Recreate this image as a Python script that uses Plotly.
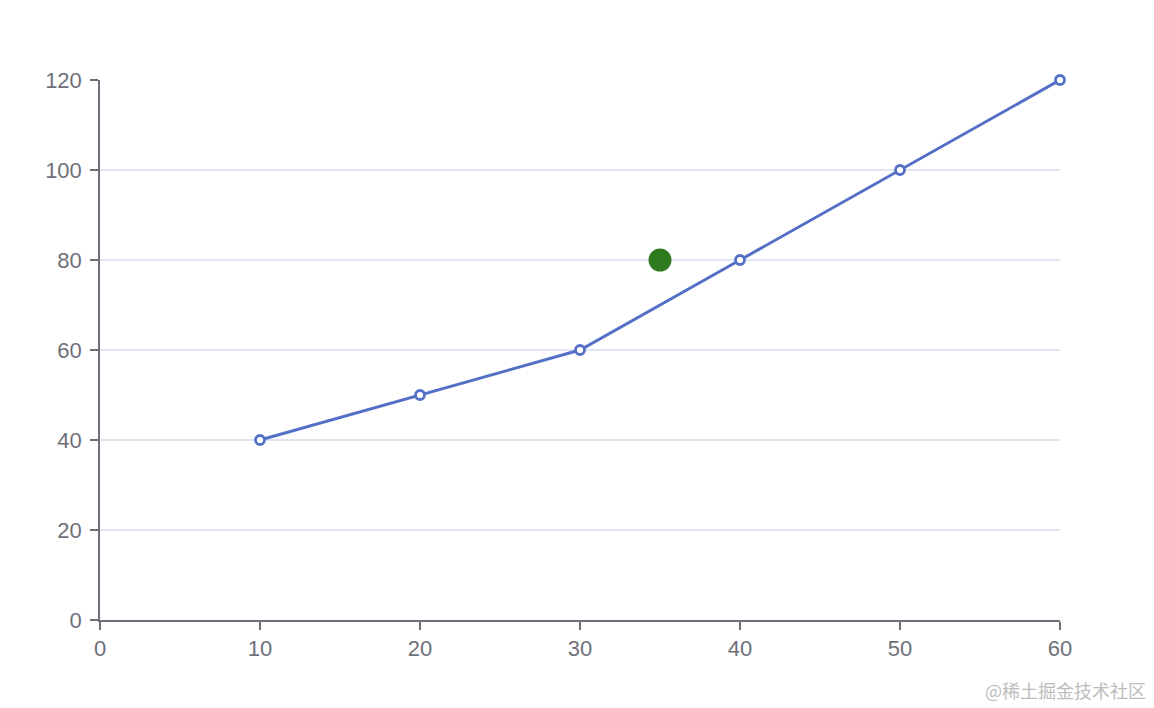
import plotly.graph_objects as go

line_x = [10, 20, 30, 40, 50, 60]
line_y = [40, 50, 60, 80, 100, 120]
point_x = [35]
point_y = [80]
x_ticks = [0, 10, 20, 30, 40, 50, 60]
y_ticks = [0, 20, 40, 60, 80, 100, 120]

fig = go.Figure()
fig.add_trace(go.Scatter(
    x=line_x, y=line_y, mode="lines+markers",
    line=dict(color="#5470C6", width=3),
    marker=dict(symbol="circle", size=9, color="#ffffff",
                line=dict(color="#5470C6", width=2.8)),
    showlegend=False, cliponaxis=False,
))
fig.add_trace(go.Scatter(
    x=point_x, y=point_y, mode="markers",
    marker=dict(symbol="circle", size=23, color="#2E7A1E",
                line=dict(width=0)),
    showlegend=False, cliponaxis=False,
))

font = dict(family="Liberation Sans, Arial, sans-serif", size=22, color="#6E7079")
fig.update_layout(
    width=1154, height=708,
    margin=dict(l=92, r=102, t=72, b=96),
    paper_bgcolor="#ffffff", plot_bgcolor="#ffffff",
    font=font,
    xaxis=dict(range=[0, 60], tickvals=x_ticks, showgrid=False, zeroline=False,
               showline=True, linecolor="#6E7079", linewidth=1.5,
               ticks="outside", ticklen=8, tickcolor="#6E7079", tickwidth=1.5,
               tickfont=font, fixedrange=True),
    yaxis=dict(range=[0, 120], tickvals=y_ticks, showgrid=True, gridcolor="#E0E6F1",
               gridwidth=1.5, zeroline=False,
               showline=True, linecolor="#6E7079", linewidth=1.5,
               ticks="outside", ticklen=8, tickcolor="#6E7079", tickwidth=1.5,
               ticklabelstandoff=4,
               tickfont=font, fixedrange=True),
    annotations=[dict(text="@稀土掘金技术社区", xref="paper", yref="paper",
                      x=1.0917, y=-0.1296, xanchor="right", yanchor="middle",
                      showarrow=False,
                      font=dict(family="Noto Sans CJK SC", size=18, color="#BDBDBD"))],
)
fig.write_html("out.html")
